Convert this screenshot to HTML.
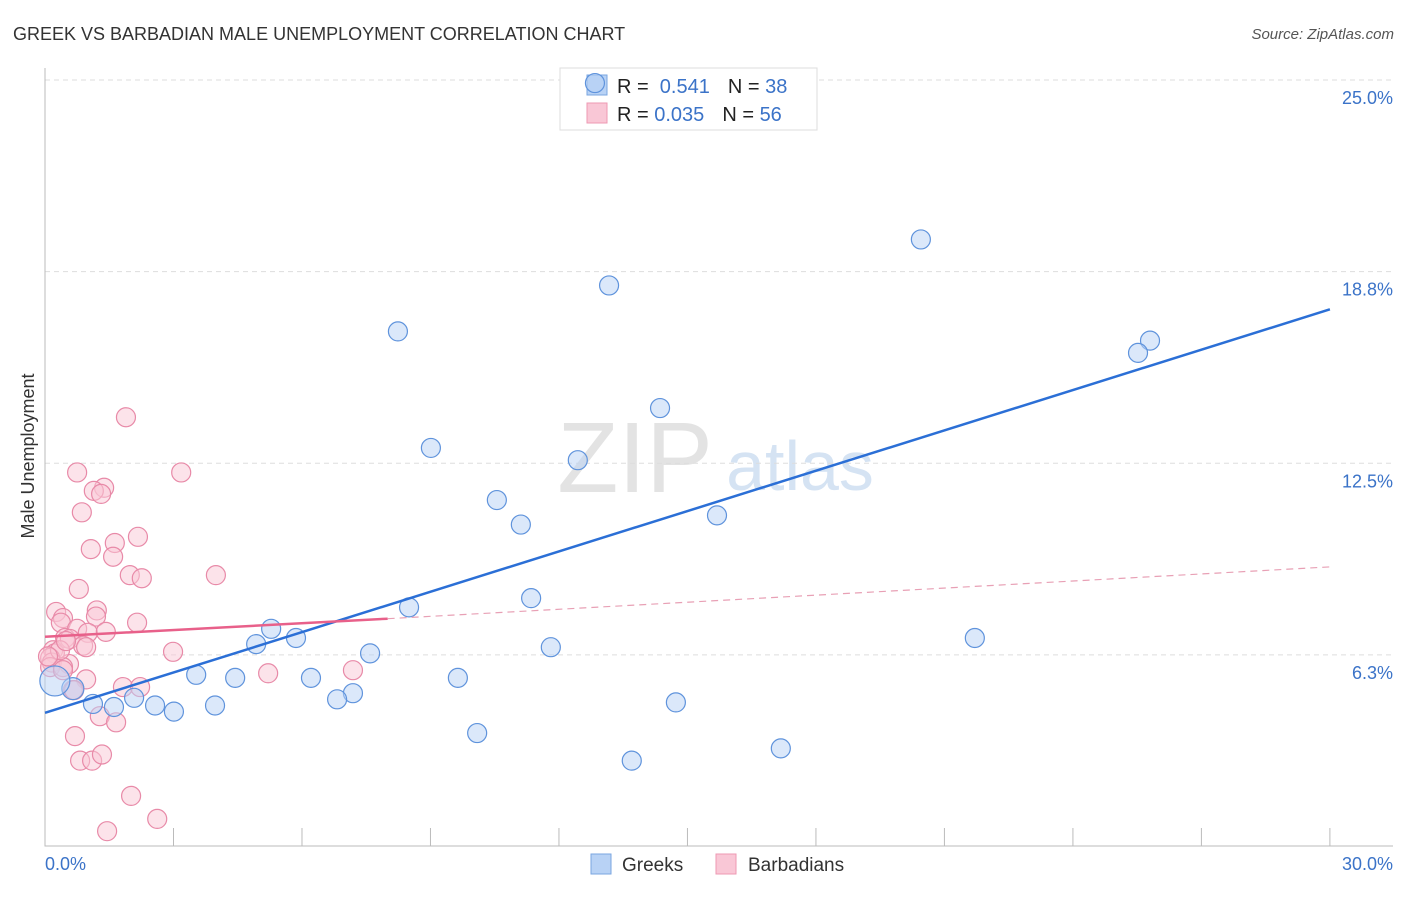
<!DOCTYPE html>
<html><head><meta charset="utf-8"><style>
body{margin:0;background:#fff;font-family:"Liberation Sans",sans-serif;}
svg text{font-family:"Liberation Sans",sans-serif;}
</style></head><body>
<svg width="1406" height="892">
<text x="13" y="40" font-size="18" fill="#333">GREEK VS BARBADIAN MALE UNEMPLOYMENT CORRELATION CHART</text>
<text x="1394" y="39" font-size="15" fill="#555" font-style="italic" text-anchor="end">Source: ZipAtlas.com</text>
<text x="635" y="492" font-size="100" fill="#e3e3e3" font-family="Liberation Serif" text-anchor="middle">ZIP</text>
<text x="800" y="490" font-size="70" fill="#d5e3f3" text-anchor="middle">atlas</text>
<g id="grid"></g><g id="axes"></g>
<g>
<rect x="560" y="68" width="257" height="62" fill="#fff" stroke="#ddd"/>
<rect x="587" y="75" width="20" height="20" fill="#b8d2f5" stroke="#7aa6e0"/>
<rect x="587" y="103" width="20" height="20" fill="#f9c7d6" stroke="#ee98b3"/>
<text x="617" y="93" font-size="20" fill="#222">R = <tspan fill="#3b73c8">&#160;0.541</tspan><tspan dx="18">N = </tspan><tspan fill="#3b73c8">38</tspan></text>
<text x="617" y="121" font-size="20" fill="#222">R = <tspan fill="#3b73c8">0.035</tspan><tspan dx="18">N = </tspan><tspan fill="#3b73c8">56</tspan></text>
</g>
<g id="marks"></g>
<text x="34" y="456" font-size="18" fill="#333" text-anchor="middle" transform="rotate(-90 34 456)">Male Unemployment</text>
<text x="45" y="870" font-size="18" fill="#3b73c8">0.0%</text>
<text x="1393" y="870" font-size="18" fill="#3b73c8" text-anchor="end">30.0%</text>
<g>
<rect x="591" y="854" width="20" height="20" fill="#b8d2f5" stroke="#7aa6e0"/>
<text x="622" y="871" font-size="19" fill="#333">Greeks</text>
<rect x="716" y="854" width="20" height="20" fill="#f9c7d6" stroke="#ee98b3"/>
<text x="748" y="871" font-size="19" fill="#333">Barbadians</text>
</g>
</svg>
<script>
const yTicks=[25,18.75,12.5,6.25];
const yTickLabels=["25.0%","18.8%","12.5%","6.3%"];
const xTicks=[0,3,6,9,12,15,18,21,24,27,30];
const greekX=[12.84,20.45,13.17,8.24,25.8,25.52,14.36,9.01,12.44,10.55,11.11,15.69,11.35,8.5,21.71,5.28,5.86,4.93,11.81,7.59,3.53,4.44,6.21,9.64,7.19,6.82,2.08,2.57,3.97,3.01,1.61,1.12,14.73,0.65,0.23,10.09,17.18,13.7];
const greekY=[24.9,19.8,18.3,16.8,16.5,16.1,14.3,13.0,12.6,11.3,10.5,10.8,8.1,7.8,6.8,7.1,6.8,6.6,6.5,6.3,5.6,5.5,5.5,5.5,5.0,4.8,4.85,4.6,4.6,4.4,4.55,4.65,4.7,5.15,5.4,3.7,3.2,2.8];
const barbX=[1.89,0.75,3.18,1.38,1.14,1.31,0.86,2.17,1.63,1.07,1.59,1.98,2.26,3.99,0.79,0.26,1.21,1.19,0.42,2.15,0.37,0.75,1.0,1.42,0.47,0.58,0.89,0.96,2.99,0.19,0.23,0.12,0.16,0.56,0.12,0.42,5.21,7.19,0.96,0.42,1.82,2.22,0.65,1.28,1.66,0.70,0.82,1.10,1.33,2.01,2.62,1.45,0.35,0.07,0.49,0.68];
const barbY=[14.0,12.2,12.2,11.7,11.6,11.5,10.9,10.1,9.9,9.7,9.45,8.85,8.75,8.85,8.4,7.65,7.7,7.5,7.45,7.3,7.3,7.1,6.97,7.0,6.8,6.77,6.55,6.5,6.35,6.4,6.3,6.15,6.0,5.95,5.85,5.85,5.65,5.75,5.45,5.75,5.2,5.2,5.1,4.25,4.05,3.6,2.8,2.8,3.0,1.65,0.9,0.5,6.4,6.2,6.7,5.1];
const greekTrend=[[0,4.36],[30,17.52]];
const barbTrend=[[0,6.84],[8,7.43]];
const barbTrendExt=[[8,7.43],[30,9.12]];
const NS="http://www.w3.org/2000/svg";
const X=v=>45+v*42.83, Y=v=>846.5-v*30.66;
function mk(tag,attrs,parent){const e=document.createElementNS(NS,tag);for(const k in attrs)e.setAttribute(k,attrs[k]);document.getElementById(parent).appendChild(e);return e;}
yTicks.forEach((t,i)=>{
 const l=mk('line',{x1:45,x2:1393,y1:Y(t),y2:Y(t),stroke:'#ddd','stroke-dasharray':'5,4'},'grid');
 
 
 const tx=mk('text',{x:1393,y:Y(t)+24,'font-size':18,fill:'#3b73c8','text-anchor':'end'},'grid');
 tx.textContent=yTickLabels[i];
 
 
});
const ax=mk('path',{d:'M45 68V846H1393',fill:'none',stroke:'#bbb'},'axes');


xTicks.slice(1).forEach(t=>{
 const l=mk('line',{x1:X(t),x2:X(t),y1:846,y2:828,stroke:'#bbb'},'axes');
 
 
});
function pts(xs,ys,fill,stroke,name){xs.forEach((x,i)=>{
 const big=(name==='greek-point'&&i===34)?15:(name==='greek-point'&&i===33?11:9.5);
 const c=mk('circle',{cx:X(x),cy:Y(ys[i]),r:big,fill:fill,'fill-opacity':0.5,stroke:stroke,'stroke-width':1.2},'marks');
 
 
});}
pts(barbX,barbY,'#f9c7d6','#e88aa8','barbadian-point');
pts(greekX,greekY,'#b8d2f5','#5f93dc','greek-point');
function line(p,stroke,w,dash,name){
 const l=mk('line',{x1:X(p[0][0]),y1:Y(p[0][1]),x2:X(p[1][0]),y2:Y(p[1][1]),stroke:stroke,'stroke-width':w},'marks');
 if(dash)l.setAttribute('stroke-dasharray',dash);
 
 
}
line(greekTrend,'#2b6fd6',2.5,null,'greek-trendline');
line(barbTrend,'#e8608a',2.5,null,'barbadian-trendline');
line(barbTrendExt,'#e8a0b5',1.2,'7,5','barbadian-trendline-extension');
</script>
</body></html>
